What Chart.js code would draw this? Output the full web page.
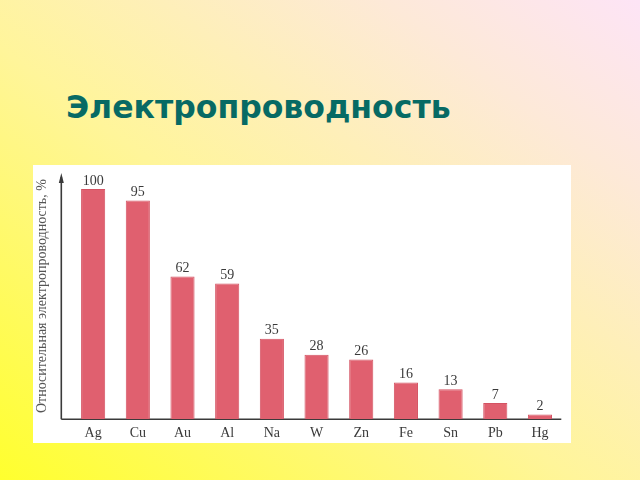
<!DOCTYPE html>
<html>
<head>
<meta charset="utf-8">
<script src="https://cdn.jsdelivr.net/npm/chart.js@4/dist/chart.umd.min.js"></script>
<style>
  html, body { margin: 0; padding: 0; width: 640px; height: 480px; overflow: hidden; }
  body { background: linear-gradient(to top right, #ffff2e 0%, #fff59a 45%, #fde9d8 80%, #fde4f6 100%); position: relative; font-family: "DejaVu Sans", sans-serif; }
  #title { position: absolute; left: 66px; top: 91px; font: bold 31.5px/32px "DejaVu Sans", sans-serif; color: #076a64; white-space: nowrap; }
  #panel { position: absolute; left: 33px; top: 165px; width: 538px; height: 278px; background: #ffffff; }
</style>
</head>
<body>
<div id="title">Электропроводность</div>
<div id="panel"><canvas id="c"></canvas></div>
<script>
const categories = ["Ag", "Cu", "Au", "Al", "Na", "W", "Zn", "Fe", "Sn", "Pb", "Hg"];
const conductivity = [100, 95, 62, 59, 35, 28, 26, 16, 13, 7, 2];
const yAxisTitle = "Относительная электропроводность, %";

const axisPlugin = {
  id: 'axisLines',
  beforeDatasetsDraw(chart) {
    const {ctx, chartArea, scales} = chart;
    const x0 = chartArea.left - 9.5;
    const y0 = scales.y.getPixelForValue(0);
    const top = chartArea.top;
    ctx.save();
    ctx.strokeStyle = '#3a3a3a';
    ctx.fillStyle = '#3a3a3a';
    ctx.lineWidth = 1.6;
    ctx.beginPath();
    ctx.moveTo(x0, y0);
    ctx.lineTo(x0, top + 4);
    ctx.moveTo(x0, y0);
    ctx.lineTo(chartArea.right - 1, y0);
    ctx.stroke();
    ctx.beginPath();
    ctx.moveTo(x0, top);
    ctx.lineTo(x0 - 2.5, top + 10);
    ctx.lineTo(x0 + 2.5, top + 10);
    ctx.closePath();
    ctx.fill();
    ctx.restore();
  }
};

const valueLabels = {
  id: 'valueLabels',
  afterDatasetsDraw(chart) {
    const {ctx} = chart;
    const meta = chart.getDatasetMeta(0);
    ctx.save();
    ctx.font = '14px "Liberation Serif", serif';
    ctx.fillStyle = '#3a3a3a';
    ctx.textAlign = 'center';
    ctx.textBaseline = 'middle';
    meta.data.forEach((bar, i) => {
      ctx.fillText(String(conductivity[i]), bar.x, bar.y - 8);
    });
    ctx.restore();
  }
};

new Chart(document.getElementById('c'), {
  type: 'bar',
  data: {
    labels: categories,
    datasets: [{
      data: conductivity,
      backgroundColor: '#e0606f',
      borderColor: '#d45363',
      borderWidth: 1,
      barPercentage: 0.54,
      categoryPercentage: 1.0
    }]
  },
  options: {
    responsive: true,
    maintainAspectRatio: false,
    animation: false,
    layout: { padding: { left: 1, right: 8.7, top: 8, bottom: -5 } },
    plugins: { legend: { display: false }, tooltip: { enabled: false }, title: { display: false } },
    scales: {
      x: {
        grid: { display: false, drawTicks: false },
        border: { display: false },
        ticks: { color: '#3a3a3a', padding: 6, font: { family: '"Liberation Serif", serif', size: 14 } }
      },
      y: {
        min: 0,
        max: 107,
        grid: { display: false, drawTicks: false },
        border: { display: false },
        ticks: { display: false },
        title: {
          display: true,
          text: yAxisTitle,
          color: '#555555',
          padding: { top: 0, bottom: 20 },
          font: { family: '"Liberation Serif", serif', size: 14 }
        }
      }
    }
  },
  plugins: [axisPlugin, valueLabels]
});
</script>
</body>
</html>
